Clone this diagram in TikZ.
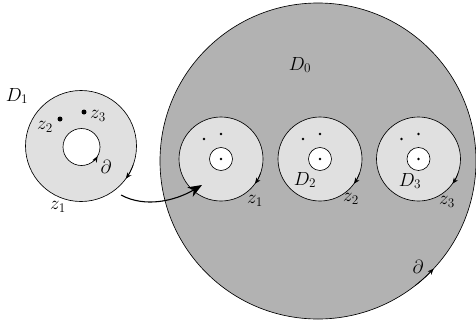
\documentclass[tikz,border=0pt]{standalone}
\usetikzlibrary{arrows.meta}
\definecolor{darkfill}{RGB}{178,178,178}
\definecolor{lightfill}{RGB}{224,224,224}
\newcommand{\lbltxt}[1]{\scalebox{1.1}{$#1$}}
\begin{document}
\begin{tikzpicture}[x=1pt,y=-1pt,line width=0.65pt,
  lbl/.style={font=\LARGE, inner sep=0pt},
  ring/.style={circle, draw, inner sep=0pt, minimum size=#1},
  pt/.style={circle, fill=black, inner sep=0pt, minimum size=#1},
  tick/.style={-{Stealth[length=6pt,width=5pt]}},
  bigarrow/.style={line width=1.1pt,-{Stealth[length=14pt,width=11pt]}}]
\useasboundingbox (0,0) rectangle (476,322);

% big disk D0
\node[ring=316pt, fill=darkfill] (big) at (318,161) {};
\draw[tick] ([shift={(52:158)}]big.center) arc[start angle=52, end angle=43, radius=158];

% three small disks inside
\foreach \n/\x in {1/221,2/320,3/418.5}{
  \node[ring=84pt, fill=lightfill] (k\n) at (\x,159) {};
  \node[ring=23pt, fill=white] (h\n) at (\x,159) {};
  \node[pt=2.8pt] (c\n) at (\x,159) {};
  \node[pt=2.6pt] (p\n) at (\x-17,139) {};
  \node[pt=2.6pt] (q\n) at (\x,134) {};
  \draw[tick] ([shift={(20:42)}]k\n.center) arc[start angle=20, end angle=36, radius=42];
}

% left disk D1
\node[ring=111pt, fill=lightfill] (d1) at (81,146) {};
\node[ring=37pt, fill=white] (h0) at (81.5,147) {};
\draw[tick] ([shift={(20:55.5)}]d1.center) arc[start angle=20, end angle=36, radius=55.5];
\draw[tick] ([shift={(50:18.5)}]h0.center) arc[start angle=50, end angle=30, radius=18.5];
\node[pt=5pt] (z2dot) at (60,119) {};
\node[pt=5pt] (z3dot) at (84,112) {};

% labels
\node[lbl] (lD1) at (17,96) {\lbltxt{D_1}};
\node[lbl] (lz2) at (45,127) {\lbltxt{z_2}};
\node[lbl] (lz3) at (98,116) {\lbltxt{z_3}};
\node[lbl] (lpa) at (106,167) {\lbltxt{\partial}};
\node[lbl] (lz1) at (58,207) {\lbltxt{z_1}};
\node[lbl] (lD0) at (300,65) {\lbltxt{D_0}};
\node[lbl] (lk1) at (255,201) {\lbltxt{z_1}};
\node[lbl] (lD2) at (305,180) {\lbltxt{D_2}};
\node[lbl] (lk2) at (351,199) {\lbltxt{z_2}};
\node[lbl] (lD3) at (410,181) {\lbltxt{D_3}};
\node[lbl] (lk3) at (447,202) {\lbltxt{z_3}};
\node[lbl] (lpb) at (418,267) {\lbltxt{\partial}};

% connecting arrow
\coordinate (s) at (121,195);
\coordinate (e) at (202,185);
\draw[bigarrow] (s) .. controls (145,208) and (175,201) .. (e);
\end{tikzpicture}
\end{document}
